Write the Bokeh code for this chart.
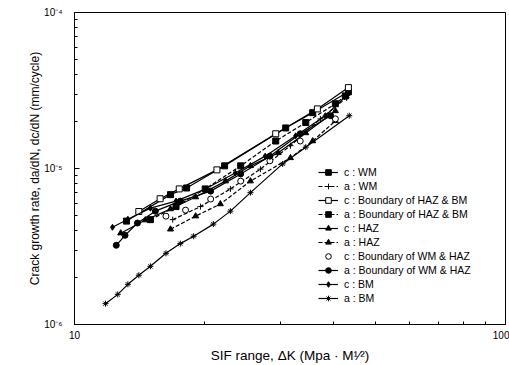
from bokeh.plotting import figure
from bokeh.models import FixedTicker, Legend, LegendItem, Title
from bokeh.embed import file_html
from bokeh.resources import INLINE

# ---- data ----
k_c_wm = [13.2, 16.7, 18.2, 22.3, 30.9, 35.7, 43.2]
v_c_wm = [4.6e-6, 6.8e-6, 7.5e-6, 1.04e-5, 1.82e-5, 2.28e-5, 3.1e-5]
k_a_wm = [16.9, 19.6, 23.0, 27.0, 31.7, 37.2, 42.8]
v_a_wm = [4.7e-6, 5.7e-6, 7.4e-6, 9.9e-6, 1.40e-5, 2.08e-5, 2.84e-5]
k_c_hb = [14.1, 15.8, 17.5, 21.4, 29.3, 36.6, 43.2]
v_c_hb = [5.3e-6, 6.4e-6, 7.4e-6, 9.8e-6, 1.67e-5, 2.41e-5, 3.3e-5]
k_a_hb = [15.0, 17.2, 20.1, 24.3, 29.3, 34.4, 40.3, 42.5]
v_a_hb = [4.7e-6, 5.7e-6, 7.4e-6, 1.04e-5, 1.5e-5, 1.97e-5, 2.6e-5, 2.92e-5]
k_c_haz = [12.8, 14.6, 16.7, 19.1, 22.4, 25.6, 29.7, 34.4, 40.3]
v_c_haz = [3.85e-6, 4.67e-6, 5.5e-6, 6.56e-6, 8.3e-6, 1.04e-5, 1.26e-5, 1.69e-5, 2.34e-5]
k_a_haz = [16.7, 19.1, 21.8, 25.6, 31.7, 35.7, 40.3]
v_a_haz = [4.08e-6, 4.95e-6, 5.92e-6, 8.3e-6, 1.17e-5, 1.5e-5, 2.02e-5]
k_c_wh = [16.3, 18.1, 20.7, 24.3, 28.4, 33.4, 40.3]
v_c_wh = [4.95e-6, 5.41e-6, 6.37e-6, 8.3e-6, 1.12e-5, 1.5e-5, 2.08e-5]
k_a_wh = [12.5, 13.1, 14.0, 15.4, 17.6, 20.7, 24.3, 28.4, 33.4, 39.3]
v_a_wh = [3.22e-6, 3.73e-6, 4.47e-6, 5.33e-6, 6.18e-6, 7.16e-6, 9.23e-6, 1.2e-5, 1.67e-5, 2.18e-5]
k_c_bm = [12.25, 13.3, 15.0, 17.2, 20.1, 23.6, 27.7, 32.6, 38.2, 43.2]
v_c_bm = [4.2e-6, 4.73e-6, 5.57e-6, 6.18e-6, 7.38e-6, 9.36e-6, 1.2e-5, 1.62e-5, 2.18e-5, 3.01e-5]
k_a_bm = [11.8, 12.6, 13.3, 14.1, 15.0, 16.3, 17.6, 18.9, 21.0, 23.0, 25.6, 30.4, 34.4, 43.4]
v_a_bm = [1.36e-6, 1.56e-6, 1.81e-6, 2.07e-6, 2.36e-6, 2.86e-6, 3.3e-6, 3.68e-6, 4.4e-6, 5.33e-6, 7.0e-6, 1.07e-5, 1.37e-5, 2.18e-5]

labels = ["c : WM", "a : WM", "c : Boundary of HAZ & BM", "a : Boundary of HAZ & BM",
          "c : HAZ", "a : HAZ", "c : Boundary of WM & HAZ", "a : Boundary of WM & HAZ",
          "c : BM", "a : BM"]
x_ticks = [10, 100]
y_ticks = [1e-6, 1e-5, 1e-4]
y_tick_labels = ["10\u207b\u2076", "10\u207b\u2075", "10\u207b\u2074"]

series = [
    (k_c_wm, v_c_wm, "square", "black", "solid", True),
    (k_a_wm, v_a_wm, "cross", "black", "4 2", True),
    (k_c_hb, v_c_hb, "square", "white", "solid", True),
    (k_a_hb, v_a_hb, "square", "black", "4 2", True),
    (k_c_haz, v_c_haz, "triangle", "black", "solid", True),
    (k_a_haz, v_a_haz, "triangle", "black", "4 2", True),
    (k_c_wh, v_c_wh, "circle", "white", "solid", False),
    (k_a_wh, v_a_wh, "circle", "black", "solid", True),
    (k_c_bm, v_c_bm, "diamond", "black", "solid", True),
    (k_a_bm, v_a_bm, "asterisk", "black", "solid", True),
]

FONT = "Liberation Sans"

p = figure(width=509, height=365, x_axis_type="log", y_axis_type="log",
           x_range=(10, 100), y_range=(1e-6, 1e-4),
           output_backend="svg", toolbar_location=None,
           min_border_left=74, min_border_right=4, min_border_top=12, min_border_bottom=10)
p.background_fill_color = "white"
p.border_fill_color = "white"
p.outline_line_color = "black"
p.outline_line_width = 1
p.xgrid.visible = False
p.ygrid.visible = False

minor_x = [20, 30, 40, 50, 60, 70, 80, 90]
minor_y = [m * 10.0 ** e for e in (-6, -5) for m in range(2, 10)]
p.xaxis.ticker = FixedTicker(ticks=x_ticks, minor_ticks=minor_x)
p.yaxis.ticker = FixedTicker(ticks=y_ticks, minor_ticks=minor_y)
p.xaxis.major_label_overrides = {10: "10", 100: "100"}
p.yaxis.major_label_overrides = {t: s for t, s in zip(y_ticks, y_tick_labels)}

for ax in (p.xaxis[0], p.yaxis[0]):
    ax.axis_line_color = "black"
    ax.major_tick_in = 5
    ax.major_tick_out = 0
    ax.minor_tick_in = 3
    ax.minor_tick_out = 0
    ax.major_label_text_font = FONT
    ax.major_label_text_font_size = "10px"
    ax.major_label_text_color = "black"
    ax.axis_label_text_font = FONT
    ax.axis_label_text_font_style = "normal"
    ax.axis_label_text_color = "black"

p.xaxis.axis_label = "SIF range, \u0394K (Mpa \u00b7 M\u00b9\u2044\u00b2)"
p.xaxis.axis_label_text_font_size = "13.5px"
p.xaxis.major_label_standoff = 6
p.xaxis.axis_label_standoff = 6
p.yaxis.major_label_standoff = 12

ytitle = Title(text="Crack growth rate, da/dN, dc/dN (mm/cycle)", align="center",
               offset=14, text_font=FONT, text_font_size="12px",
               text_font_style="normal", text_color="black", standoff=0)
p.add_layout(ytitle, "left")

items = []
for (k, v, marker, fill, dash, has_line), lab in zip(series, labels):
    rs = []
    if has_line:
        rs.append(p.line(k, v, line_color="black", line_width=1.2, line_dash=dash))
    rs.append(p.scatter(k, v, marker=marker, size=6, line_color="black",
                        fill_color=fill, line_width=1))
    items.append(LegendItem(label=lab, renderers=rs))

legend = Legend(items=items, location=(244, 19), background_fill_alpha=0,
                border_line_alpha=0, padding=0, margin=0, spacing=0,
                glyph_width=20, glyph_height=14, label_height=14,
                label_standoff=6,
                label_text_font=FONT, label_text_font_size="10.5px",
                label_text_color="black")
p.add_layout(legend, "center")

open("out.html", "w").write(file_html(p, INLINE))
